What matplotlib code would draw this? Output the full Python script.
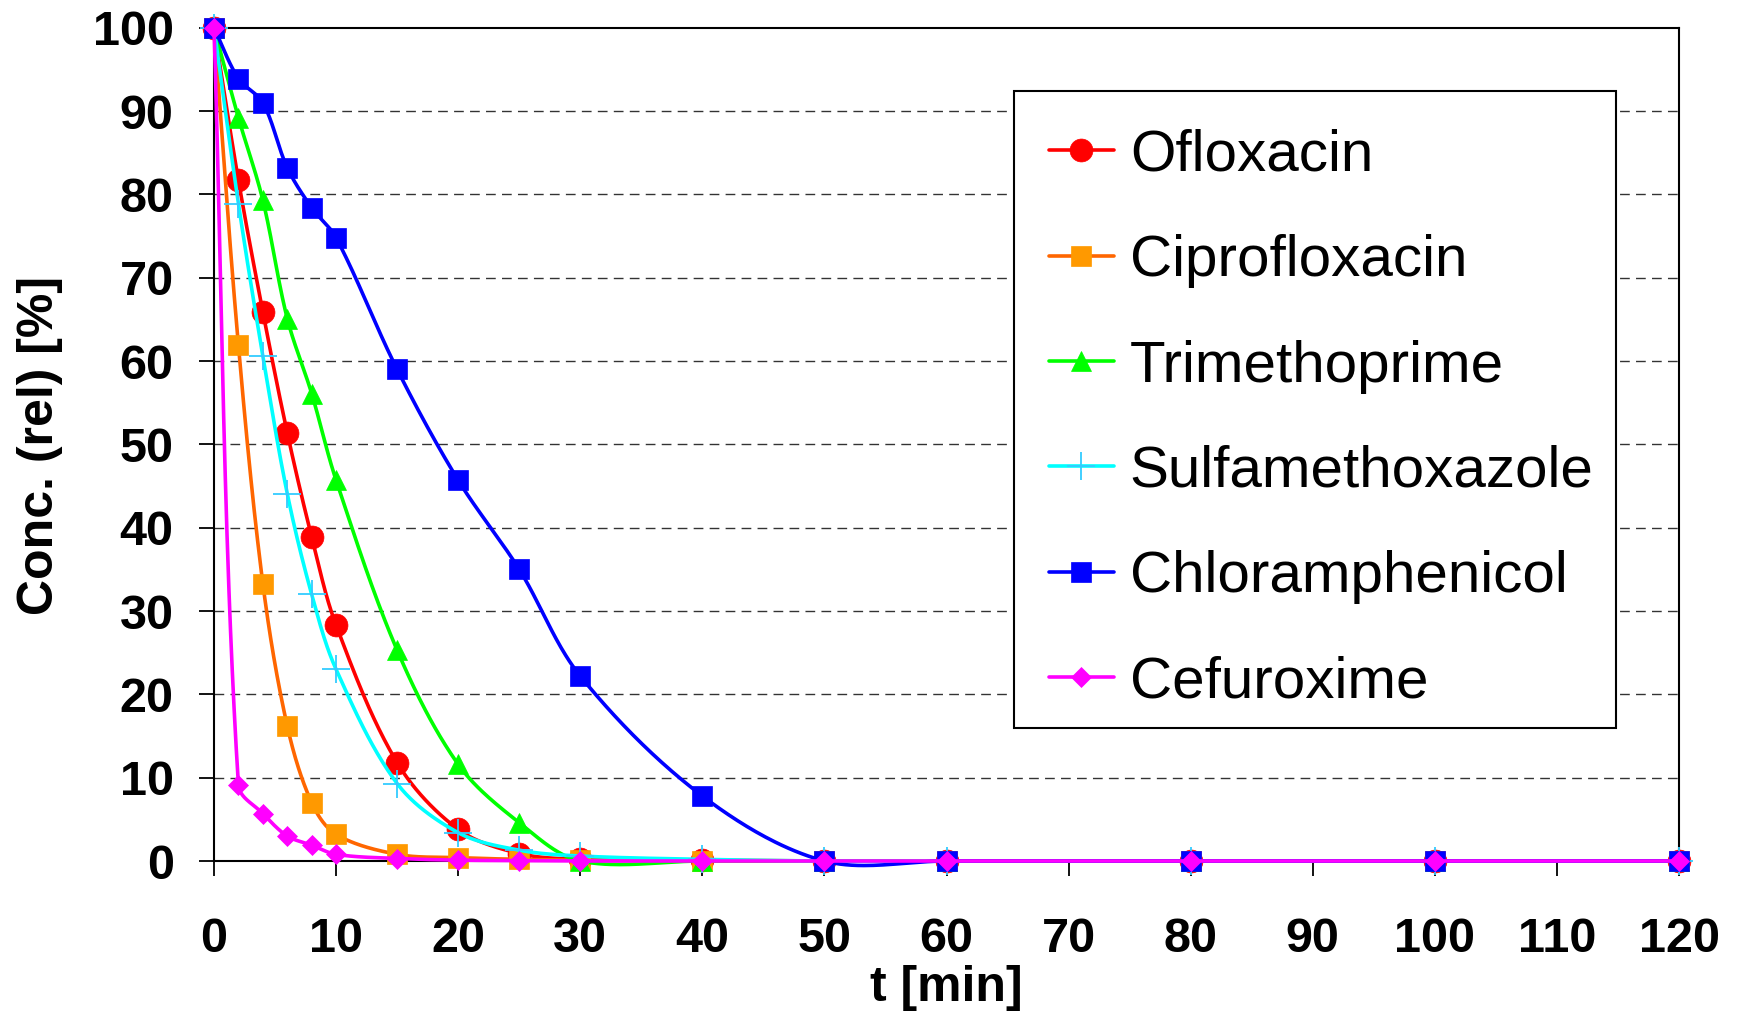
import numpy as np
import matplotlib
matplotlib.use("Agg")
import matplotlib.pyplot as plt
from matplotlib.patches import Rectangle

plt.rcParams['font.family'] = ['Liberation Sans', 'DejaVu Sans']

# Sampling times [min]
t_min = [0, 2, 4, 6, 8, 10, 15, 20, 25, 30, 40, 50, 60, 80, 100, 120]

# Relative concentrations [%]
ofloxacin = [100, 81.7, 65.9, 51.4, 38.9, 28.3, 11.8, 3.8, 0.9, 0.2, 0.1, 0, 0, 0, 0, 0]
ciprofloxacin = [100, 61.9, 33.3, 16.2, 7.0, 3.2, 0.8, 0.4, 0.2, 0.1, 0, 0, 0, 0, 0, 0]
trimethoprime = [100, 89.2, 79.3, 65.1, 56.1, 45.7, 25.3, 11.6, 4.6, 0, 0, 0, 0, 0, 0, 0]
sulfamethoxazole = [100, 78.9, 60.6, 44.1, 32.0, 23.0, 9.3, 3.4, 1.3, 0.6, 0.2, 0, 0, 0, 0, 0]
chloramphenicol = [100, 93.9, 91.0, 83.2, 78.4, 74.8, 59.0, 45.7, 35.0, 22.2, 7.8, 0, 0, 0, 0, 0]
cefuroxime = [100, 9.1, 5.7, 3.0, 1.9, 0.8, 0.3, 0.1, 0.05, 0, 0, 0, 0, 0, 0, 0]

names = ["Ofloxacin", "Ciprofloxacin", "Trimethoprime", "Sulfamethoxazole",
         "Chloramphenicol", "Cefuroxime"]
values = [ofloxacin, ciprofloxacin, trimethoprime, sulfamethoxazole,
          chloramphenicol, cefuroxime]
line_colors = ["#FF0000", "#FF6600", "#00FF00", "#00FFFF", "#0000FF", "#FF00FF"]
marker_colors = ["#FF0000", "#FF9900", "#00FF00", "#33CCFF", "#0000FF", "#FF00FF"]
markers = ["o", "s", "^", "+", "s", "D"]
msizes = [16.5, 14, 15, 20, 14.5, 10.5]

W, H = 1738, 1013
fig = plt.figure(figsize=(W / 100, H / 100), dpi=100)
ax = fig.add_axes([214 / W, 1 - 861 / H, (1679 - 214) / W, (861 - 27.7) / H])
ax.set_xlim(0, 120)
ax.set_ylim(0, 100)


def smooth_path(x, y, n=40):
    """Bezier smoothing through the points, computed in display space."""
    P = ax.transData.transform(np.column_stack([x, y]).astype(float))
    m = len(P)
    tang = np.zeros_like(P)
    for i in range(m):
        if i == 0:
            d = P[1] - P[0]
            tang[i] = d / np.hypot(*d)
        elif i == m - 1:
            d = P[-1] - P[-2]
            tang[i] = d / np.hypot(*d)
        else:
            d1 = np.hypot(*(P[i] - P[i - 1]))
            d2 = np.hypot(*(P[i + 1] - P[i]))
            tang[i] = (P[i + 1] - P[i - 1]) / (d1 + d2)
    s = np.linspace(0, 1, n)[:, None]
    out = []
    for i in range(m - 1):
        p0, p3 = P[i], P[i + 1]
        L = np.hypot(*(p3 - p0))
        c1 = p0 + tang[i] * L / 3
        c2 = p3 - tang[i + 1] * L / 3
        seg = ((1 - s) ** 3) * p0 + 3 * (1 - s) ** 2 * s * c1 + 3 * (1 - s) * s ** 2 * c2 + s ** 3 * p3
        out.append(seg if i == 0 else seg[1:])
    pts = ax.transData.inverted().transform(np.vstack(out))
    return pts[:, 0], pts[:, 1]


# horizontal dashed grid
for yv in range(10, 100, 10):
    ax.axhline(yv, color="#333333", lw=1.0, dashes=(7, 4.5), zorder=1)

handles = []
for k, (name, vals) in enumerate(zip(names, values)):
    sx, sy = smooth_path(t_min, vals)
    ln, = ax.plot(sx, sy, color=line_colors[k], lw=2.6, clip_on=False,
                  zorder=3 + 2 * k, solid_capstyle="round")
    if markers[k] == "+":
        mk, = ax.plot(t_min, vals, ls="none", marker="+", ms=msizes[k],
                      mew=1.3, color=marker_colors[k], clip_on=False, zorder=4 + 2 * k)
    else:
        mk, = ax.plot(t_min, vals, ls="none", marker=markers[k], ms=msizes[k],
                      mfc=marker_colors[k], mec=marker_colors[k], mew=0.5,
                      clip_on=False, zorder=4 + 2 * k)
    handles.append((ln, mk))

ax.set_xticks(np.arange(0, 121, 10))
ax.set_yticks(np.arange(0, 101, 10))
ax.tick_params(axis="x", direction="out", length=11, width=1.3, pad=29,
               labelsize=35, top=False)
ax.tick_params(axis="y", direction="out", length=11, width=1.3, pad=18,
               labelsize=35, right=False)
for lab in ax.get_xticklabels() + ax.get_yticklabels():
    lab.set_fontweight("bold")

for sp in ax.spines.values():
    sp.set_linewidth(1.5)
    sp.set_color("black")
    sp.set_zorder(2)

fig.text((214 + 1679) / 2 / W, 1 - 988 / H, "t [min]", ha="center", va="center",
         fontsize=36, fontweight="bold")
fig.text(40 / W, 1 - 445 / H, "Conc. (rel) [%]", ha="center", va="center",
         rotation=90, fontsize=36, fontweight="bold")

# legend box
box = Rectangle((1014 / W, 1 - 728 / H), (1616 - 1014) / W, (728 - 91.5) / H,
                transform=fig.transFigure, facecolor="white", edgecolor="black",
                lw=1.5, zorder=19)
fig.add_artist(box)

leg = fig.legend(handles, names, loc="upper left",
                 bbox_to_anchor=(1012 / W, 1 - 91.5 / H),
                 bbox_transform=fig.transFigure, borderaxespad=0,
                 fontsize=42, frameon=False, borderpad=0.64,
                 labelspacing=0.88, handlelength=1.1, handletextpad=0.28)
leg.set_zorder(20)

fig.savefig("out.png", dpi=100)
